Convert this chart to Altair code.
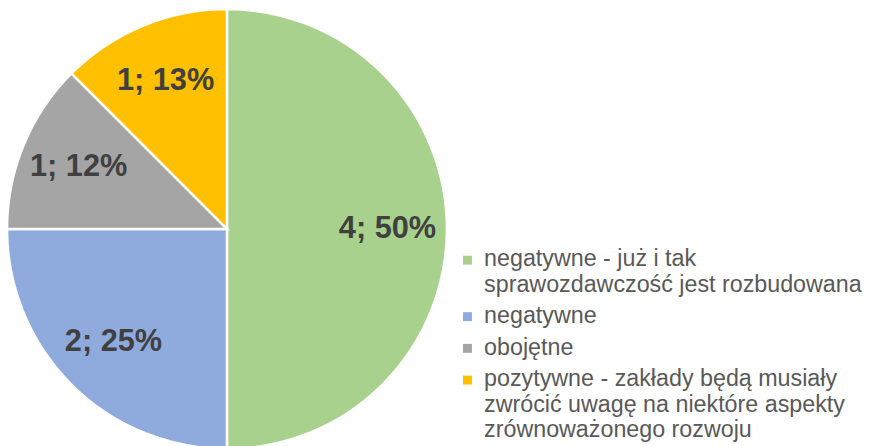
import altair as alt
import pandas as pd

categories = [
    "negatywne - już i tak\nsprawozdawczość jest rozbudowana",
    "negatywne",
    "obojętne",
    "pozytywne - zakłady będą musiały\nzwrócić uwagę na niektóre aspekty\nzrównoważonego rozwoju",
]
values = [4, 2, 1, 1]
percent_labels = ["50%", "25%", "12%", "13%"]
colors = ["#A9D18E", "#8FAADC", "#A5A5A5", "#FFC000"]

df = pd.DataFrame({
    "category": categories,
    "value": values,
    "idx": list(range(len(values))),
    "label": [f"{v}; {p}" for v, p in zip(values, percent_labels)],
})

cx, cy, R = 221, 221, 222

base = alt.Chart(df).encode(
    theta=alt.Theta("value:Q", stack=True),
    order=alt.Order("idx:Q"),
)

arcs = base.mark_arc(outerRadius=R, stroke="white", strokeWidth=2.5).encode(
    x=alt.value(cx),
    y=alt.value(cy),
    color=alt.Color(
        "category:N",
        scale=alt.Scale(domain=categories, range=colors),
        sort=categories,
        legend=alt.Legend(
            orient="none",
            legendX=452,
            legendY=228,
            title=None,
            padding=0,
            labelExpr="split(datum.label, '\\n')",
            labelFont="Liberation Sans",
            labelFontSize=23.5,
            labelColor="#595959",
            labelBaseline="top",
            labelLimit=600,
            labelOffset=5,
            symbolType="M-1,1.83H1V3.83H-1Z",
            symbolSize=81,
            symbolStrokeWidth=0,
            symbolOpacity=1,
            rowPadding=-4,
            gridAlign="none",
        ),
    ),
)

texts = base.mark_text(
    radius=162,
    font="Liberation Sans",
    fontSize=31,
    fontWeight="bold",
    color="#404040",
).encode(
    x=alt.value(cx),
    y=alt.value(cy),
    text="label:N",
)

chart = (
    alt.layer(arcs, texts)
    .properties(width=868, height=438, padding=0, autosize=alt.AutoSizeParams(type="none"))
    .configure(view={"stroke": None})
)

chart.save("out.html", embed_options={"renderer": "svg", "actions": False})
